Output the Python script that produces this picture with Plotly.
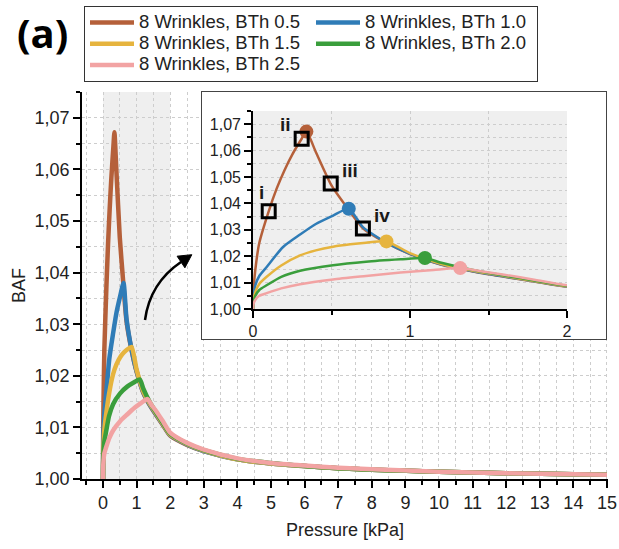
import plotly.graph_objects as go

# ---- data: bending amplification factor (BAF) vs applied pressure ----
series_names = [
    "8 Wrinkles, BTh 0.5",
    "8 Wrinkles, BTh 1.0",
    "8 Wrinkles, BTh 1.5",
    "8 Wrinkles, BTh 2.0",
    "8 Wrinkles, BTh 2.5",
]
series_colors = ["#B5603A", "#2F7CB7", "#E6B43E", "#3A9E3C", "#F2A3A3"]

p_bth05 = [0, 0.003, 0.015, 0.04, 0.1, 0.15, 0.2, 0.25, 0.31, 0.34, 0.4, 0.5, 0.6, 0.7,
           0.85, 1.0, 1.2, 1.4, 1.6, 1.8, 2.0, 2.5, 3, 4, 5, 6, 7, 8, 10, 12, 15]
baf_bth05 = [1.0, 1.007, 1.015, 1.025, 1.037, 1.0455, 1.0525, 1.0585, 1.0645, 1.0672, 1.0595,
             1.0468, 1.0383, 1.0306, 1.0250, 1.0208, 1.0167, 1.0142, 1.0122, 1.0103, 1.0084,
             1.0066, 1.0054, 1.0038, 1.0030, 1.0025, 1.0021, 1.0018, 1.0014, 1.0011, 1.0008]

p_bth10 = [0, 0.003, 0.015, 0.04, 0.087, 0.19, 0.3, 0.4, 0.51, 0.61, 0.7, 0.85, 1.0, 1.2,
           1.4, 1.6, 1.8, 2.0, 2.5, 3, 4, 5, 6, 7, 8, 10, 12, 15]
baf_bth10 = [1.0, 1.004, 1.009, 1.0125, 1.0159, 1.0234, 1.0282, 1.0322, 1.0354, 1.038, 1.0310,
             1.0251, 1.0209, 1.0168, 1.0143, 1.0123, 1.0104, 1.0085, 1.0067, 1.0054, 1.0038,
             1.0030, 1.0025, 1.0021, 1.0018, 1.0014, 1.0011, 1.0008]

p_bth15 = [0, 0.003, 0.015, 0.04, 0.087, 0.18, 0.3, 0.4, 0.51, 0.62, 0.72, 0.85, 1.0, 1.2,
           1.4, 1.6, 1.8, 2.0, 2.5, 3, 4, 5, 6, 7, 8, 10, 12, 15]
baf_bth15 = [1.0, 1.003, 1.0065, 1.0095, 1.0122, 1.0165, 1.0203, 1.0222, 1.0236, 1.0245, 1.0251,
             1.0256, 1.0212, 1.0170, 1.0145, 1.0125, 1.0105, 1.0086, 1.0068, 1.0055, 1.0038,
             1.0030, 1.0025, 1.0021, 1.0018, 1.0014, 1.0011, 1.0008]

p_bth20 = [0, 0.003, 0.015, 0.04, 0.087, 0.18, 0.3, 0.51, 0.72, 0.94, 1.095, 1.2, 1.4, 1.6,
           1.8, 2.0, 2.5, 3, 4, 5, 6, 7, 8, 10, 12, 15]
baf_bth20 = [1.0, 1.0025, 1.005, 1.0072, 1.009, 1.0122, 1.0145, 1.0166, 1.0179, 1.0188, 1.0193,
             1.0175, 1.0148, 1.0127, 1.0107, 1.0088, 1.0069, 1.0056, 1.0039, 1.0031, 1.0025,
             1.0021, 1.0018, 1.0014, 1.0011, 1.0008]

p_bth25 = [0, 0.003, 0.015, 0.04, 0.087, 0.18, 0.3, 0.51, 0.72, 0.94, 1.15, 1.32, 1.45, 1.6,
           1.8, 2.0, 2.5, 3, 4, 5, 6, 7, 8, 10, 12, 15]
baf_bth25 = [1.0, 1.0018, 1.0035, 1.005, 1.006, 1.0078, 1.0094, 1.0112, 1.0125, 1.0138, 1.0148,
             1.0155, 1.0143, 1.0130, 1.0110, 1.0090, 1.0070, 1.0057, 1.0040, 1.0031, 1.0026,
             1.0022, 1.0019, 1.0014, 1.0011, 1.0008]

pressures = [p_bth05, p_bth10, p_bth15, p_bth20, p_bth25]
bafs = [baf_bth05, baf_bth10, baf_bth15, baf_bth20, baf_bth25]

# deformation stages marked on the BTh 0.5 curve
stage_labels = ["i", "ii", "iii", "iv"]
stage_p = [0.1, 0.31, 0.495, 0.70]
stage_baf = [1.037, 1.0645, 1.0475, 1.0305]

W, H = 619, 549
FONT = "Arial, Liberation Sans, sans-serif"
GRID = "#cdcdcd"
SHADE = "#efefef"


def px_x(px):
    return px / W


def px_y(py):
    return 1 - py / H


fig = go.Figure()

# main plot curves
for name, col, p, b in zip(series_names, series_colors, pressures, bafs):
    fig.add_trace(go.Scatter(
        x=p, y=b, name=f'<span style="font-size:18.5px">{name}</span>', mode="lines",
        line=dict(color=col, width=4.5, shape="spline", smoothing=0.6),
        xaxis="x", yaxis="y",
    ))

# empty trace holding the white inset frame subplot
fig.add_trace(go.Scatter(x=[], y=[], xaxis="x2", yaxis="y2", showlegend=False,
                         hoverinfo="skip"))

# inset curves
for name, col, p, b in zip(series_names, series_colors, pressures, bafs):
    fig.add_trace(go.Scatter(
        x=p, y=b, name=name, mode="lines", showlegend=False,
        line=dict(color=col, width=2.5, shape="spline", smoothing=0.6),
        xaxis="x3", yaxis="y3",
    ))

# peak markers in the inset
peak_p, peak_baf = [], []
for p, b in zip(pressures, bafs):
    k = b.index(max(b))
    peak_p.append(p[k])
    peak_baf.append(b[k])
fig.add_trace(go.Scatter(
    x=peak_p, y=peak_baf, mode="markers", showlegend=False,
    marker=dict(color=series_colors, size=14, line=dict(width=0)),
    xaxis="x3", yaxis="y3",
))

# stage markers
fig.add_trace(go.Scatter(
    x=stage_p, y=stage_baf, mode="markers", showlegend=False,
    marker=dict(symbol="square-open", size=13, color="black", line=dict(width=3)),
    xaxis="x3", yaxis="y3",
))

stage_shift = [(-7, 19), (-16, 14), (19, 13), (19, 13)]
annotations = []
for lab, sp, sb, (dx, dy) in zip(stage_labels, stage_p, stage_baf, stage_shift):
    annotations.append(dict(
        x=sp, y=sb, xref="x3", yref="y3", text=f"<b>{lab}</b>", showarrow=False,
        xshift=dx, yshift=dy, font=dict(size=19, color="#1a1a1a", family=FONT),
    ))
annotations.append(dict(
    x=px_x(42), y=px_y(33), xref="paper", yref="paper", text="<b>(a)</b>",
    xanchor="center", yanchor="middle", showarrow=False,
    font=dict(size=40, color="black", family="Open Sans, Arial"),
))

# curved arrow pointing towards the zoomed inset
x0, y0 = px_x(145), px_y(320)
cx, cy = px_x(150), px_y(283)
x1, y1 = px_x(181), px_y(262)
tip = (px_x(191.8), px_y(254.7))
b1 = (px_x(184.9), px_y(267.8))
b2 = (px_x(177.1), px_y(256.2))

shapes = [
    dict(type="rect", xref="x", yref="y", x0=0, x1=2, y0=1.0, y1=1.075,
         fillcolor=SHADE, line=dict(width=0), layer="below"),
    dict(type="rect", xref="x3", yref="y3", x0=0, x1=2, y0=1.0, y1=1.075,
         fillcolor=SHADE, line=dict(width=0), layer="below"),
    dict(type="path", xref="paper", yref="paper", layer="above",
         path=f"M {x0},{y0} Q {cx},{cy} {x1},{y1}",
         line=dict(color="black", width=2.5)),
    dict(type="path", xref="paper", yref="paper", layer="above",
         path=f"M {tip[0]},{tip[1]} L {b1[0]},{b1[1]} L {b2[0]},{b2[1]} Z",
         fillcolor="black", line=dict(color="black", width=1)),
]

axis_common = dict(
    showline=True, linecolor="black", linewidth=1.6, ticks="outside",
    tickcolor="black", tickwidth=1.5, zeroline=False, automargin=False,
    showgrid=True, gridcolor=GRID, gridwidth=1, griddash="3px,3px",
    tickfont=dict(size=18, color="#222", family=FONT),
)

fig.update_layout(
    width=W, height=H,
    margin=dict(l=0, r=0, t=0, b=0),
    paper_bgcolor="white", plot_bgcolor="white",
    separators=",.",
    font=dict(family=FONT, color="#222"),
    showlegend=True,
    legend=dict(
        orientation="h", x=px_x(84), y=px_y(6), xanchor="left", yanchor="top",
        bgcolor="white", bordercolor="#333", borderwidth=1,
        font=dict(size=14, color="#222", family=FONT),
        entrywidth=167, entrywidthmode="pixels", itemwidth=44,
    ),
    xaxis=dict(
        **axis_common, domain=[px_x(82), px_x(608)], range=[-0.625, 15.03],
        anchor="y", tickmode="linear", tick0=0, dtick=1, ticklen=7,
        minor=dict(dtick=0.5, tick0=0, ticks="outside", ticklen=4, tickcolor="black",
                   showgrid=True, gridcolor=GRID, griddash="3px,3px"),
        title=dict(text="Pressure [kPa]", font=dict(size=18, color="#222"), standoff=11),
    ),
    yaxis=dict(
        **axis_common, domain=[px_y(479), px_y(92)], range=[1.0, 1.075],
        anchor="x", tickmode="linear", tick0=1.0, dtick=0.01, tickformat=".2f", ticklen=7,
        minor=dict(dtick=0.005, tick0=1.0, ticks="outside", ticklen=4, tickcolor="black",
                   showgrid=True, gridcolor=GRID, griddash="3px,3px"),
        title=dict(text="BAF", font=dict(size=18, color="#222"), standoff=4),
    ),
    xaxis2=dict(domain=[px_x(202), px_x(606)], range=[0, 1], anchor="y2",
                showline=True, mirror=True, linecolor="#444", linewidth=1.3,
                showgrid=False, zeroline=False, showticklabels=False, ticks="",
                fixedrange=True),
    yaxis2=dict(domain=[px_y(339), px_y(92)], range=[0, 1], anchor="x2",
                showline=True, mirror=True, linecolor="#444", linewidth=1.3,
                showgrid=False, zeroline=False, showticklabels=False, ticks="",
                fixedrange=True),
    xaxis3=dict(
        **{**axis_common, "tickfont": dict(size=16, color="#222", family=FONT)},
        domain=[px_x(253), px_x(567)], range=[0, 2], anchor="y3",
        tickmode="linear", tick0=0, dtick=1, ticklen=7,
        minor=dict(dtick=0.5, tick0=0, ticks="outside", ticklen=4, tickcolor="black",
                   showgrid=True, gridcolor=GRID, griddash="3px,3px"),
    ),
    yaxis3=dict(
        **{**axis_common, "tickfont": dict(size=16, color="#222", family=FONT)},
        domain=[px_y(309), px_y(111)], range=[1.0, 1.075], anchor="x3",
        tickmode="linear", tick0=1.0, dtick=0.01, tickformat=".2f", ticklen=7,
        minor=dict(dtick=0.005, tick0=1.0, ticks="outside", ticklen=4, tickcolor="black",
                   showgrid=True, gridcolor=GRID, griddash="3px,3px"),
    ),
    shapes=shapes,
    annotations=annotations,
)

fig.write_html("out.html")
